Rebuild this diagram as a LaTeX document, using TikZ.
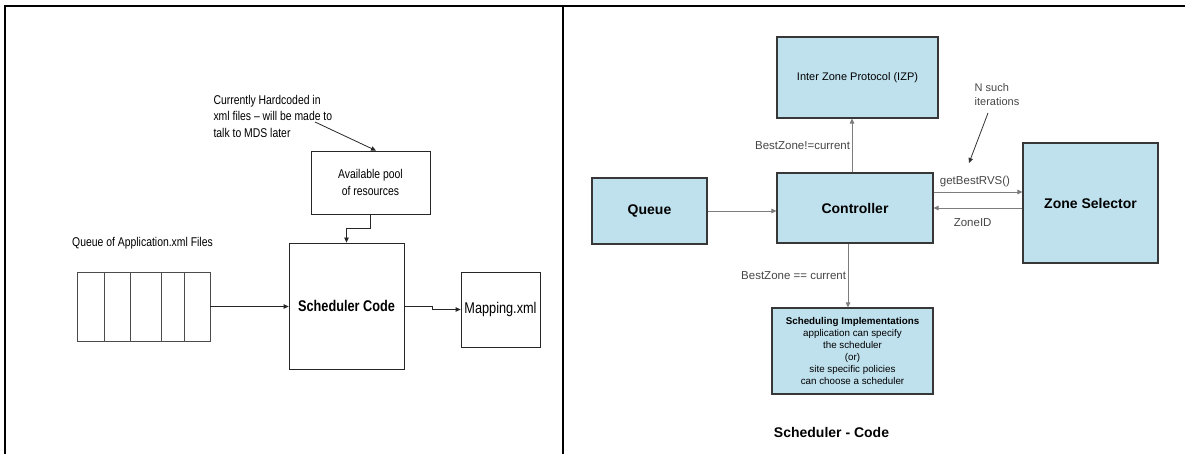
\documentclass[tikz,border=0pt]{standalone}
\usepackage{fontspec}
\setmainfont{Liberation Sans}
\newfontfamily\narrowfont[FakeStretch=0.82]{Liberation Sans}
\usetikzlibrary{arrows.meta}

\definecolor{boxblue}{RGB}{191,225,238}
\definecolor{boxline}{RGB}{55,55,55}
\definecolor{wire}{RGB}{125,125,125}
\definecolor{labelgray}{RGB}{70,70,70}

\begin{document}
\begin{tikzpicture}[x=1pt, y=-1pt,
	plainbox/.style={draw=black!85, line width=0.8pt, inner sep=0pt, align=center},
	bluebox/.style={draw=boxline, line width=1.1pt, fill=boxblue, inner sep=0pt, align=center},
	tip/.style={-{Triangle[length=5pt,width=4.5pt]}},
	leftwire/.style={tip, draw=black!85, line width=0.8pt},
	rightwire/.style={tip, draw=wire, line width=0.9pt},
	narrowtext/.style={font=\narrowfont\fontsize{12.7}{16.5}\selectfont},
	edgelabel/.style={text=labelgray, font=\fontsize{11.5}{14}\selectfont, inner sep=1.5pt},
	bigbold/.style={font=\bfseries\fontsize{14}{16}\selectfont}]
	\useasboundingbox (0,0) rectangle (1185,454);

	% frame
	\draw[line width=2pt] (4.7,454) -- (4.7,6.5) -- (1185,6.5);
	\draw[line width=2pt] (562.7,6.5) -- (562.7,454);

	% left panel
	\node[narrowtext, anchor=west, align=left] (note) at (210,116)
		{Currently Hardcoded in\\xml files – will be made to\\talk to MDS later};
	\node[plainbox, narrowtext, minimum width=119, minimum height=63] (pool) at (370.5,182.5)
		{Available pool\\of resources};
	\node[plainbox, minimum width=115, minimum height=126, font=\narrowfont\bfseries\fontsize{15.5}{18}\selectfont] (sched) at (346.5,306)
		{Scheduler Code};
	\node[narrowtext] (queuelabel) at (142.5,243) {Queue of Application.xml Files};
	\node[plainbox, draw=black!70, minimum width=133, minimum height=69] (queue) at (143.5,306.5) {};
	\foreach \x in {104,130.5,161,184}
		\draw[black!70, line width=0.8pt] (\x,272) -- (\x,341);
	\node[plainbox, minimum width=79, minimum height=75, font=\narrowfont\fontsize{15.5}{18}\selectfont] (mapping) at (500.5,309.5)
		{Mapping.xml};

	\coordinate (notetail) at (315,122);
	\draw[leftwire] (notetail) -- ([xshift=5.5pt]pool.north);
	\draw[leftwire] (pool.south) -- ++(0,14) -| (sched.north);
	\draw[leftwire] (queue.east) -- (sched.west |- queue.east);
	\draw[leftwire] (sched.east) -- ++(28,0) |- (mapping.west);

	% right panel
	\node[bluebox, minimum width=115, minimum height=66, bigbold] (qbox) at (649.5,211) {Queue};
	\node[bluebox, minimum width=156, minimum height=70, bigbold] (ctrl) at (855,208) {Controller};
	\node[bluebox, minimum width=161, minimum height=81, font=\fontsize{11}{13}\selectfont] (izp) at (857.5,77.5)
		{Inter Zone Protocol (IZP)};
	\node[bluebox, minimum width=135, minimum height=120, bigbold] (zone) at (1090.5,203) {Zone Selector};
	\node[bluebox, minimum width=161, minimum height=86, font=\fontsize{9.8}{12}\selectfont] (impl) at (852.5,351)
		{\textbf{Scheduling Implementations}\\application can specify\\the scheduler\\(or)\\site specific policies\\can choose a scheduler};
	\node[edgelabel, anchor=west, align=left, font=\fontsize{11}{14}\selectfont] (iter) at (973,95)
		{N such\\iterations};
	\node[bigbold] (title) at (831.5,432) {Scheduler - Code};

	\draw[rightwire] (qbox.east) -- (qbox.east -| ctrl.west);
	\draw[rightwire] ([xshift=-3pt]ctrl.north) -- ([xshift=-3pt]ctrl.north |- izp.south)
		node[edgelabel, midway, left] {BestZone!=current};
	\draw[rightwire] ([yshift=16pt]ctrl.east) -- ([yshift=16pt]ctrl.east -| zone.west)
		node[edgelabel, pos=0.05, above right, yshift=3pt] {getBestRVS()};
	\draw[rightwire] (zone.west |- ctrl.east) -- (ctrl.east)
		node[edgelabel, pos=0.56, below, yshift=-9pt] {ZoneID};
	\draw[rightwire] ([xshift=-7pt]ctrl.south) -- ([xshift=-7pt]ctrl.south |- impl.north)
		node[edgelabel, midway, left] {BestZone == current};
	\coordinate (itertail) at (988,113);
	\coordinate (itertip) at (969,163);
	\draw[tip, draw=black!80, line width=0.8pt] (itertail) -- (itertip);
\end{tikzpicture}
\end{document}
